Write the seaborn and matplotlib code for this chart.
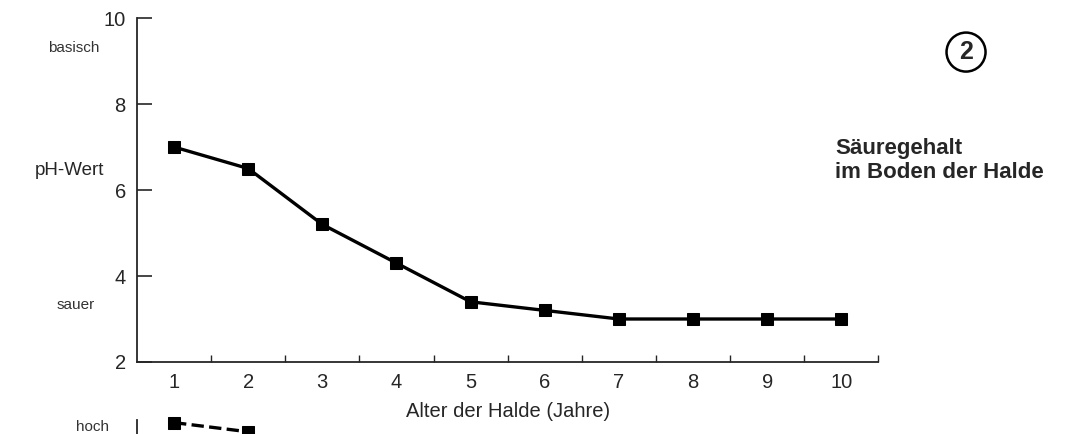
import matplotlib
matplotlib.use('Agg')
import matplotlib.pyplot as plt
import seaborn as sns
import pandas as pd

# Data
jahre = [1, 2, 3, 4, 5, 6, 7, 8, 9, 10]
ph_wert = [7.0, 6.5, 5.2, 4.3, 3.4, 3.2, 3.0, 3.0, 3.0, 3.0]
y_ticks = [2, 4, 6, 8, 10]

# second (cut-off) panel below: only two points are visible
unten_jahre = [1, 2]
unten_wert = [9.8, 9.1]

sns.set_style('ticks')
plt.rcParams['font.family'] = ['Liberation Sans', 'DejaVu Sans']

df = pd.DataFrame({'Jahr': jahre, 'pH': ph_wert})
df2 = pd.DataFrame({'Jahr': unten_jahre, 'Wert': unten_wert})

fig = plt.figure(figsize=(10.76, 4.34), dpi=100)
ax = fig.add_axes([0.1273, 0.1659, 0.689, 0.7926])

sns.lineplot(data=df, x='Jahr', y='pH', ax=ax, color='black', linewidth=2.4,
             marker='s', markersize=8, markeredgecolor='black', clip_on=False)

ax.set_xlim(0.5, 10.5)
ax.set_ylim(2, 10)
ax.set_yticks(y_ticks)
ax.set_xticks(jahre)
ax.set_xticks([j + 0.5 for j in jahre], minor=True)
ax.tick_params(axis='y', direction='in', length=11, width=1.2, pad=8, labelsize=14.5)
ax.tick_params(axis='x', which='major', length=0, pad=8, labelsize=14.5)
ax.tick_params(axis='x', which='minor', direction='in', length=5, width=1.0)
sns.despine(ax=ax)
for s in ['left', 'bottom']:
    ax.spines[s].set_linewidth(1.3)

ax.set_xlabel('Alter der Halde (Jahre)', fontsize=14.5, labelpad=7)
ax.set_ylabel('')

fig.text(0.0683, 0.889, 'basisch', fontsize=11, ha='center', va='center', color='#333333')
fig.text(0.0706, 0.297, 'sauer', fontsize=11, ha='center', va='center', color='#333333')
fig.text(0.065, 0.608, 'pH-Wert', fontsize=13.5, ha='center', va='center')

fig.text(0.776, 0.63, 'Säuregehalt\nim Boden der Halde', fontsize=16,
         fontweight='bold', ha='left', va='center', linespacing=1.2)
fig.text(0.8978, 0.880, '2', fontsize=18, fontweight='bold', ha='center', va='center',
         bbox=dict(boxstyle='circle,pad=0.3', fc='white', ec='black', lw=1.8))

# lower panel, mostly outside the figure
ax2 = fig.add_axes([0.1273, -0.27, 0.689, 0.3023])
ax2.patch.set_visible(False)
sns.lineplot(data=df2, x='Jahr', y='Wert', ax=ax2, color='black', linewidth=2.4,
             linestyle='--', marker='s', markersize=8, markeredgecolor='black',
             clip_on=False)
ax2.set_xlim(0.5, 10.5)
ax2.set_ylim(0, 10)
ax2.set_xticks([])
ax2.set_yticks([])
ax2.set_xlabel('')
ax2.set_ylabel('')
sns.despine(ax=ax2, bottom=True)
ax2.spines['left'].set_linewidth(1.3)
fig.text(0.0864, 0.016, 'hoch', fontsize=11, ha='center', va='center', color='#333333')

fig.savefig('out.png', dpi=100)
